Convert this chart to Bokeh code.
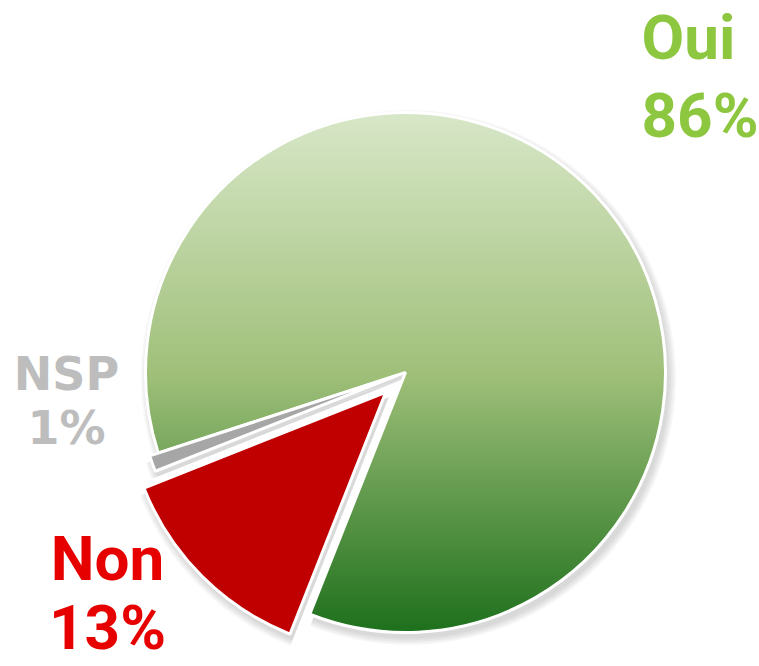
import numpy as np
from bokeh.plotting import figure
from bokeh.models import Range1d
from bokeh.embed import file_html
from bokeh.resources import INLINE
from bokeh.core.properties import value

# ---- data ----
labels = ["Oui", "Non", "NSP"]
percents = [86, 13, 1]
pct_text = ["86%", "13%", "1%"]
slice_colors = ["#9fc07a", "#c00000", "#a6a6a6"]
label_colors = ["#8dc63f", "#e60000", "#bdbdbd"]

# ---- layout ----
W, H = 759, 666
CX, CY = 405.0, H - 372.0
R = 260.0
START_DEG = 198.0          # slices laid out clockwise from here
explode = [0.0, 28.0, 9.0]

# gradient stops for the "Oui" slice (screen y, rgb)
grad_y = [112, 372, 632]
grad_rgb = [(216, 231, 200), (160, 192, 122), (30, 112, 28)]

p = figure(width=W, height=H, x_range=Range1d(0, W), y_range=Range1d(0, H),
           output_backend="svg", toolbar_location=None, min_border=0)
p.axis.visible = False
p.grid.visible = False
p.outline_line_color = None
p.background_fill_color = "white"

# angles
starts, ends, offs = [], [], []
cum = 0.0
for v, e in zip(percents, explode):
    a0 = START_DEG - cum * 3.6
    a1 = a0 - v * 3.6
    cum += v
    mid = np.radians((a0 + a1) / 2)
    starts.append(np.radians(a1))
    ends.append(np.radians(a0))
    offs.append((e * np.cos(mid), e * np.sin(mid)))

cxs = [CX + o[0] for o in offs]
cys = [CY + o[1] for o in offs]

# soft shadow
for k in range(5):
    p.wedge(x=[c + 3 for c in cxs], y=[c - 5 for c in cys], radius=R + 1 + k * 1.6,
            start_angle=starts, end_angle=ends, fill_color="#606060",
            fill_alpha=0.05, line_color=None)

# gradient "Oui" slice built from horizontal bands
def clip(poly, y0, above):
    out = []
    n = len(poly)
    for i in range(n):
        cur = poly[i]
        prev = poly[i - 1]
        cin = (cur[1] >= y0) if above else (cur[1] <= y0)
        pin = (prev[1] >= y0) if above else (prev[1] <= y0)
        if cin:
            if not pin:
                t = (y0 - prev[1]) / (cur[1] - prev[1])
                out.append((prev[0] + t * (cur[0] - prev[0]), y0))
            out.append(cur)
        elif pin:
            t = (y0 - prev[1]) / (cur[1] - prev[1])
            out.append((prev[0] + t * (cur[0] - prev[0]), y0))
    return out

ang = np.linspace(starts[0], ends[0], 700)
poly = [(cxs[0], cys[0])] + [(cxs[0] + R * np.cos(a), cys[0] + R * np.sin(a)) for a in ang]

def grad_color(sy):
    rgb = [int(round(np.interp(sy, grad_y, [c[i] for c in grad_rgb]))) for i in range(3)]
    return "#%02x%02x%02x" % tuple(rgb)

xs_b, ys_b, cols_b = [], [], []
step = 3.0
y = cys[0] - R - 1
while y < cys[0] + R + 1:
    piece = clip(clip(poly, y, True), y + step + 0.9, False)
    if len(piece) >= 3:
        xs_b.append([q[0] for q in piece])
        ys_b.append([q[1] for q in piece])
        cols_b.append(grad_color(H - (y + step / 2)))
    y += step
p.patches(xs=xs_b, ys=ys_b, fill_color=cols_b, line_color=None)

# white border on Oui
p.wedge(x=[cxs[0]], y=[cys[0]], radius=R, start_angle=[starts[0]], end_angle=[ends[0]],
        fill_color=None, line_color="white", line_width=3)

# other slices
p.wedge(x=cxs[1:], y=cys[1:], radius=R, start_angle=starts[1:], end_angle=ends[1:],
        fill_color=slice_colors[1:], line_color="white", line_width=3)

# labels (y = screen position of the glyph baseline, corrected for renderer offset)
lab_pos = {
    "Oui": dict(x=641, y1=37, y2=115, align="left", font="Roboto", size="62px"),
    "Non": dict(x=107, y1=558, y2=627, align="center", font="Roboto", size="62px"),
    "NSP": dict(x=66, y1=373, y2=427, align="center", font="DejaVu Sans", size="46px"),
}
for lab, pt, col in zip(labels, pct_text, label_colors):
    lp = lab_pos[lab]
    p.text(x=[lp["x"], lp["x"]], y=[H - lp["y1"], H - lp["y2"]], text=[lab, pt],
           text_font=value(lp["font"]), text_font_style="bold", text_font_size=lp["size"],
           text_color=col, text_align=lp["align"], text_baseline="alphabetic")

open("out.html", "w").write(file_html(p, INLINE))
